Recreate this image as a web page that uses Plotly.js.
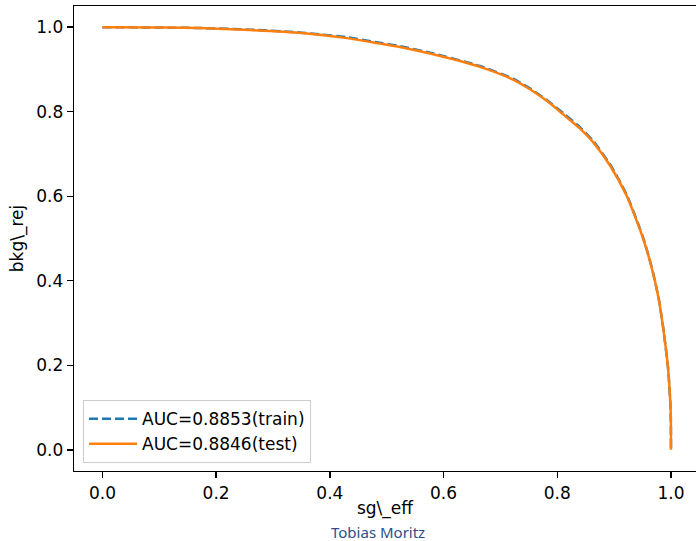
<!DOCTYPE html>
<html>
<head>
<meta charset="utf-8">
<script src="https://cdn.plot.ly/plotly-3.0.1.min.js"></script>
<style>html,body{margin:0;padding:0;background:#fff;}#chart{width:696px;height:541px;}</style>
</head>
<body>
<div id="chart"></div>
<script>
// ROC-style curves
const sgEffTest = [0.0, 0.10, 0.17, 0.26, 0.35, 0.43, 0.488, 0.523, 0.576, 0.664, 0.722, 0.752, 0.782, 0.811, 0.840, 0.863, 0.893, 0.922, 0.951, 0.965, 0.978, 0.9865, 0.995, 0.9995, 1.0];
const bkgRejTest = [1.0, 0.999, 0.998, 0.993, 0.986, 0.974, 0.961, 0.953, 0.9375, 0.906, 0.876, 0.853, 0.825, 0.793, 0.760, 0.728, 0.672, 0.601, 0.500, 0.436, 0.360, 0.286, 0.191, 0.089, 0.0];
const sgEffTrain = [0.0, 0.10, 0.17, 0.26, 0.35, 0.43, 0.488, 0.523, 0.576, 0.664, 0.722, 0.752, 0.782, 0.811, 0.840, 0.863, 0.893, 0.922, 0.951, 0.965, 0.978, 0.9865, 0.995, 0.9995, 1.0];
const bkgRejTrain = [1.0, 0.999, 0.998, 0.994, 0.987, 0.976, 0.963, 0.955, 0.9395, 0.908, 0.878, 0.855, 0.827, 0.796, 0.763, 0.731, 0.675, 0.604, 0.502, 0.438, 0.361, 0.287, 0.191, 0.089, 0.0];
const labelTrain = 'AUC=0.8853(train)';
const labelTest = 'AUC=0.8846(test)';
const xTicks = [0.0, 0.2, 0.4, 0.6, 0.8, 1.0];
const yTicks = [0.0, 0.2, 0.4, 0.6, 0.8, 1.0];

const font = 'DejaVu Sans, sans-serif';
const traces = [
  {x: sgEffTrain, y: bkgRejTrain, mode: 'lines', name: labelTrain,
   line: {color: '#1f77b4', width: 2.5, dash: '9px,4px', shape: 'spline', smoothing: 0.6}},
  {x: sgEffTest, y: bkgRejTest, mode: 'lines', name: labelTest,
   line: {color: '#ff7f0e', width: 2.5, shape: 'spline', smoothing: 0.6}}
];
const layout = {
  width: 696, height: 541,
  margin: {l: 74, r: 0, t: 6, b: 70, pad: 0},
  paper_bgcolor: '#fff', plot_bgcolor: '#fff',
  font: {family: font, size: 17, color: '#000'},
  showlegend: true,
  xaxis: {
    range: [-0.05, 1.044], tickvals: xTicks, tickformat: '.1f',
    showgrid: false, zeroline: false, showline: true, mirror: true,
    linecolor: '#000', linewidth: 1.3, ticks: 'outside', ticklen: 6, tickwidth: 1.3, tickcolor: '#000',
    tickfont: {family: font, size: 17, color: '#000'},
    title: {text: 'sg\\_eff', font: {family: font, size: 17, color: '#000'}, standoff: 0},
    automargin: false
  },
  yaxis: {
    range: [-0.05, 1.05], tickvals: yTicks, tickformat: '.1f',
    showgrid: false, zeroline: false, showline: true, mirror: false,
    linecolor: '#000', linewidth: 1.3, ticks: 'outside', ticklen: 6, tickwidth: 1.3, tickcolor: '#000',
    tickfont: {family: font, size: 17, color: '#000'},
    title: {text: 'bkg\\_rej', font: {family: font, size: 17, color: '#000'}, standoff: 8},
    automargin: false
  },
  legend: {
    x: 0.0145, y: 0.017, xanchor: 'left', yanchor: 'bottom',
    bgcolor: 'rgba(255,255,255,0.8)', bordercolor: '#cccccc', borderwidth: 1,
    itemwidth: 48, tracegroupgap: 0,
    font: {family: font, size: 17, color: '#000'}
  },
  annotations: [{
    text: 'Tobias Moritz', xref: 'paper', yref: 'paper',
    x: 0.488, y: -0.131, xanchor: 'center', yanchor: 'middle', showarrow: false, borderpad: 0,
    font: {family: 'Noto Sans, sans-serif', size: 15, color: '#2b4f8a'}
  }]
};
Plotly.newPlot('chart', traces, layout, {displayModeBar: false, staticPlot: true});
</script>
</body>
</html>
